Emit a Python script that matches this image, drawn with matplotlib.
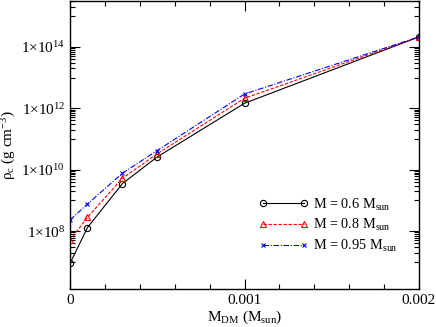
import numpy as np
import matplotlib
matplotlib.use('Agg')
import matplotlib.pyplot as plt
from matplotlib.ticker import FixedLocator, FuncFormatter, NullFormatter

plt.rcParams['font.family'] = 'serif'
plt.rcParams['font.serif'] = ['Liberation Serif']
plt.rcParams['mathtext.fontset'] = 'custom'
plt.rcParams['mathtext.rm'] = 'Liberation Serif'
plt.rcParams['mathtext.it'] = 'Liberation Serif:italic'

# dark matter mass (M_sun)
m_dm = [0.0, 0.0001, 0.0003, 0.0005, 0.001, 0.002]
# central density (g cm^-3) for each stellar mass
rho_06 = [8.9e6, 1.3e8, 3.5e9, 2.6e10, 1.45e12, 2.1e14]
rho_08 = [5.0e7, 2.8e8, 5.2e9, 3.3e10, 2.1e12, 2.1e14]
rho_095 = [2.3e8, 7.6e8, 7.6e9, 4.2e10, 2.9e12, 2.1e14]
labels = [r'M = 0.6 M$_{\rm sun}$', r'M = 0.8 M$_{\rm sun}$', r'M = 0.95 M$_{\rm sun}$']

fig = plt.figure(figsize=(4.36, 3.27), dpi=100)
ax = fig.add_axes([0.1606, 0.1162, 0.8004, 0.8808])

ax.plot(m_dm, rho_06, color='black', lw=0.8, ls='-', marker='o', ms=4.5,
        mfc='none', mec='black', mew=0.8, label=labels[0])
ax.plot(m_dm, rho_08, color='red', lw=0.8, ls=(0, (3, 1.5)), marker='^', ms=4.5,
        mfc='none', mec='red', mew=0.8, label=labels[1])
ax.plot(m_dm, rho_095, color='blue', lw=0.8, ls=(0, (5, 1.5, 1, 1.5)), marker='x', ms=3.5,
        mec='blue', mew=0.8, label=labels[2])

ax.set_yscale('log')
ax.set_xlim(0, 0.002)
ax.set_ylim(1.3e6, 3.1e15)

ax.xaxis.set_major_locator(FixedLocator([0, 0.001, 0.002]))
ax.xaxis.set_minor_locator(FixedLocator(np.arange(0, 0.00201, 0.0002)))
ax.xaxis.set_major_formatter(FuncFormatter(lambda v, p: '0' if v == 0 else f'{v:g}'))

majors = [1e6, 1e8, 1e10, 1e12, 1e14, 1e16]
minors = [k * 10.0**e for e in (5, 7, 9, 11, 13, 15) for k in range(1, 10)]
ax.yaxis.set_major_locator(FixedLocator(majors))
ax.yaxis.set_minor_locator(FixedLocator(minors))
ax.yaxis.set_minor_formatter(NullFormatter())
ax.yaxis.set_major_formatter(FuncFormatter(
    lambda v, p: r'$\mathregular{1{\times}10^{%d}}$' % round(np.log10(v))))

ax.tick_params(which='both', direction='in', top=True, right=True, labelsize=11)
ax.tick_params(which='major', length=7, width=0.8)
ax.tick_params(which='minor', length=3.5, width=0.8)
for s in ax.spines.values():
    s.set_linewidth(1.0)

ax.set_xlabel(r'M$_{\rm DM}$ (M$_{\rm sun}$)', fontsize=11, labelpad=1)
ax.set_ylabel(r'ρ$_{\rm c}$ (g cm$^{-3}$)', fontsize=11, labelpad=2)

ax.legend(loc='lower right', bbox_to_anchor=(0.968, 0.086), frameon=False,
          fontsize=10.3, handlelength=3.45, labelspacing=0.33, handletextpad=0.35,
          borderaxespad=0.3, numpoints=2)

fig.savefig('out.png', dpi=100)
